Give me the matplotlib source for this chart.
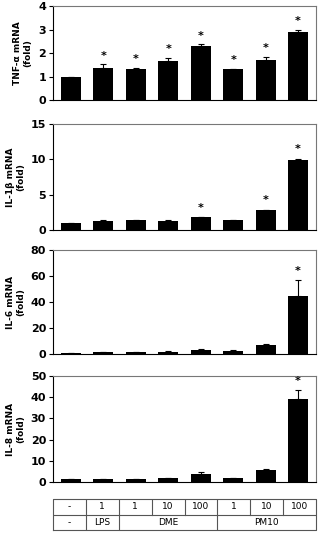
import matplotlib
matplotlib.use("Agg")
import matplotlib.pyplot as plt
import numpy as np

plt.rcParams["font.family"] = ["DejaVu Sans"]

# treatment groups (8 bars)
dose_row = ["-", "1", "1", "10", "100", "1", "10", "100"]
agent_groups = [("-", 1), ("LPS", 1), ("DME", 3), ("PM10", 3)]

# mean fold change and error per gene
tnf_mean = [1.0, 1.38, 1.30, 1.65, 2.30, 1.33, 1.72, 2.90]
tnf_err = [0.0, 0.14, 0.07, 0.13, 0.07, 0.0, 0.13, 0.10]
tnf_star = [False, True, True, True, True, True, True, True]

il1b_mean = [1.0, 1.25, 1.35, 1.25, 1.80, 1.35, 2.80, 9.90]
il1b_err = [0.0, 0.10, 0.0, 0.10, 0.0, 0.0, 0.10, 0.20]
il1b_star = [False, False, False, False, True, False, True, True]

il6_mean = [1.0, 1.2, 1.2, 1.8, 3.0, 2.5, 6.8, 45.0]
il6_err = [0.0, 0.4, 0.5, 0.4, 0.5, 0.4, 1.2, 12.0]
il6_star = [False] * 7 + [True]

il8_mean = [1.2, 1.6, 1.6, 2.0, 4.0, 2.0, 5.8, 39.0]
il8_err = [0.0, 0.0, 0.0, 0.0, 0.8, 0.0, 0.4, 4.5]
il8_star = [False] * 7 + [True]

panels = [
    ("TNF-\u03b1 mRNA\n(fold)", tnf_mean, tnf_err, tnf_star, 4, 1),
    ("IL-1\u03b2 mRNA\n(fold)", il1b_mean, il1b_err, il1b_star, 15, 5),
    ("IL-6 mRNA\n(fold)", il6_mean, il6_err, il6_star, 80, 20),
    ("IL-8 mRNA\n(fold)", il8_mean, il8_err, il8_star, 50, 10),
]

W, H = 321, 550
fig = plt.figure(figsize=(W / 100, H / 100), dpi=100)

# panel pixel extents (top, bottom)
ax_left, ax_right = 53, 316
panel_px = [(6, 100), (124, 230), (250, 354), (376, 482)]

x = np.arange(len(dose_row))
for (label, mean, err, star, ymax, step), (t, b) in zip(panels, panel_px):
    ax = fig.add_axes([ax_left / W, 1 - b / H, (ax_right - ax_left) / W, (b - t) / H])
    ax.bar(x, mean, width=0.62, color="black", zorder=2)
    ax.errorbar(x, mean, yerr=[np.zeros(len(err)), err], fmt="none",
                ecolor="black", elinewidth=0.8, capsize=2.5, capthick=0.8)
    for xi, m, e, s in zip(x, mean, err, star):
        if s:
            ax.text(xi, m + e + ymax * 0.04, "*", ha="center", va="bottom",
                    fontsize=8, fontweight="bold")
    ax.set_xlim(-0.55, len(x) - 0.45)
    ax.set_ylim(0, ymax)
    ax.set_yticks(np.arange(0, ymax + step / 2, step))
    ax.set_xticks([])
    for sp in ax.spines.values():
        sp.set_color("#777777")
        sp.set_linewidth(0.8)
    ax.spines["left"].set_color("black")
    ax.spines["bottom"].set_color("black")
    ax.tick_params(axis="y", direction="out", length=3, width=0.8, labelsize=8, pad=2)
    for tl in ax.get_yticklabels():
        tl.set_fontweight("bold")
    ax.set_ylabel(label, fontsize=6.5, fontweight="bold", labelpad=4, linespacing=1.2)

# table below
tab_top, tab_bot = 499, 530
tax = fig.add_axes([ax_left / W, 1 - tab_bot / H, (ax_right - ax_left) / W, (tab_bot - tab_top) / H])
n = len(dose_row)
tax.set_xlim(0, n)
tax.set_ylim(0, 2)
tax.axis("off")
lc = "#555555"
tax.plot([0, n, n, 0, 0], [0, 0, 2, 2, 0], color=lc, lw=0.8, clip_on=False)
tax.plot([0, n], [1, 1], color=lc, lw=0.8)
for i in range(1, n):
    tax.plot([i, i], [1, 2], color=lc, lw=0.8)
for i, d in enumerate(dose_row):
    tax.text(i + 0.5, 1.5, d, ha="center", va="center", fontsize=6.5)
pos = 0
for name, span in agent_groups:
    if pos > 0:
        tax.plot([pos, pos], [0, 1], color=lc, lw=0.8)
    tax.text(pos + span / 2, 0.5, name, ha="center", va="center", fontsize=6.5)
    pos += span

fig.savefig("out.png", dpi=100)
